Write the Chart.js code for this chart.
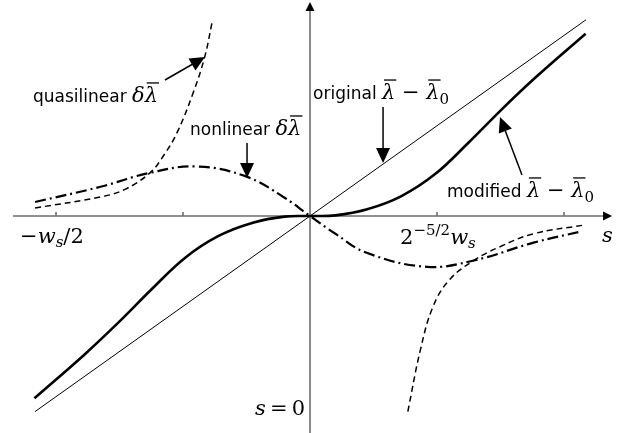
<!DOCTYPE html>
<html>
<head>
<meta charset="utf-8">
<script src="https://cdn.jsdelivr.net/npm/chart.js@4.4.1/dist/chart.umd.min.js"></script>
<style>
  html, body { margin: 0; padding: 0; background: #fff; }
  #wrap { width: 633px; height: 433px; }
</style>
</head>
<body>
<div id="wrap"><canvas id="chart" width="633" height="433"></canvas></div>
<script>
const originalS = [-2.165, 2.173];
const originalY = [-1.54, 1.545];

const modifiedS = [-2.17, -1.775, -1.51, -1.245, -0.985, -0.72, -0.45, -0.2, 0, 0.2, 0.45, 0.72, 0.985, 1.245, 1.51, 1.775, 2.17];
const modifiedY = [-1.435, -1.09, -0.84, -0.575, -0.33, -0.157, -0.053, -0.005, 0, 0.005, 0.053, 0.157, 0.33, 0.575, 0.84, 1.09, 1.435];

const nonlinearS = [-2.165, -1.65, -1.26, -0.89, -0.5, -0.21, 0, 0.2, 0.446, 0.92, 1.29, 1.76, 2.14];
const nonlinearY = [0.11, 0.23, 0.34, 0.39, 0.31, 0.15, 0, -0.14, -0.29, -0.4, -0.35, -0.21, -0.12];

const quasiLeftS = [-2.165, -1.65, -1.457, -1.26, -1.15, -1.05, -0.92, -0.83, -0.77];
const quasiLeftY = [0.063, 0.15, 0.21, 0.34, 0.48, 0.65, 0.97, 1.25, 1.53];
const quasiRightS = [0.77, 0.87, 0.97, 1.1, 1.29, 1.5, 1.76, 2.165];
const quasiRightY = [-1.54, -1.05, -0.71, -0.5, -0.35, -0.24, -0.14, -0.07];

const tickValues = [-2, -1, 1, 2];

const SANS = '17px "DejaVu Sans"';
const MATH_I = 'italic 21px "DejaVu Serif"';
const MATH_R = '21px "DejaVu Serif"';
const SUB_I = 'italic 15px "DejaVu Serif"';
const SUB_R = '15px "DejaVu Serif"';
const TH = "\u2009";

function pts(xs, ys) {
  return xs.map((x, i) => ({ x: x, y: ys[i] }));
}

// annotation arrows: tail -> tip, in data units
const arrows = [
  { from: [-1.142, 1.071], to: [-0.827, 1.252] },
  { from: [-0.496, 0.575], to: [-0.496, 0.299] },
  { from: [0.575, 0.858], to: [0.575, 0.417] },
  { from: [1.669, 0.323], to: [1.496, 0.78] }
];

const lam = () => ({ t: "\u03bb", font: MATH_I, bar: true });

const labels = [
  { at: [-2.181, 0.898], runs: [{ t: "quasilinear ", font: SANS }, { t: "\u03b4", font: MATH_I }, lam()] },
  { at: [-0.945, 0.638], runs: [{ t: "nonlinear ", font: SANS }, { t: "\u03b4", font: MATH_I }, lam()] },
  { at: [0.024, 0.921], runs: [{ t: "original ", font: SANS }, lam(), { t: " \u2212 ", font: MATH_R }, lam(), { t: "0", font: SUB_R, dy: 5 }] },
  { at: [1.079, 0.15], runs: [{ t: "modified ", font: SANS }, lam(), { t: " \u2212 ", font: MATH_R }, lam(), { t: "0", font: SUB_R, dy: 5 }] },
  { at: [-2.283, -0.213], runs: [{ t: "\u2212", font: MATH_R }, { t: "w", font: MATH_I }, { t: "s", font: SUB_I, dy: 4 }, { t: "/2", font: MATH_R }] },
  { at: [0.709, -0.221], runs: [{ t: "2", font: MATH_R }, { t: "\u22125/2", font: SUB_R, dy: -9 }, { t: "w", font: MATH_I }, { t: "s", font: SUB_I, dy: 4 }] },
  { at: [2.299, -0.205], runs: [{ t: "s", font: MATH_I }] },
  { at: [-0.433, -1.567], runs: [{ t: "s", font: MATH_I }, { t: TH + "=" + TH, font: MATH_R }, { t: "0", font: MATH_R }] }
];

function head(ctx, x1, y1, x2, y2, len, half) {
  const a = Math.atan2(y2 - y1, x2 - x1);
  ctx.beginPath();
  ctx.moveTo(x2, y2);
  ctx.lineTo(x2 - len * Math.cos(a) + half * Math.sin(a), y2 - len * Math.sin(a) - half * Math.cos(a));
  ctx.lineTo(x2 - len * Math.cos(a) - half * Math.sin(a), y2 - len * Math.sin(a) + half * Math.cos(a));
  ctx.closePath();
  ctx.fill();
}

function drawRuns(ctx, x, y, runs) {
  runs.forEach((r) => {
    ctx.font = r.font;
    const w = ctx.measureText(r.t).width;
    ctx.fillText(r.t, x, y + (r.dy || 0));
    if (r.bar) {
      ctx.lineWidth = 1.3;
      ctx.beginPath();
      ctx.moveTo(x + 2, y - 19);
      ctx.lineTo(x + w + 1, y - 19);
      ctx.stroke();
    }
    x += w;
  });
}

const sketchAxes = {
  id: "sketchAxes",
  beforeDatasetsDraw(chart) {
    const ctx = chart.ctx;
    const sx = chart.scales.x, sy = chart.scales.y;
    const x0 = sx.getPixelForValue(0), y0 = sy.getPixelForValue(0);
    const left = sx.getPixelForValue(-2.339), right = sx.getPixelForValue(2.378);
    const top = sy.getPixelForValue(1.685), bottom = sy.getPixelForValue(-1.709);
    ctx.save();
    ctx.strokeStyle = "#6e6e6e";
    ctx.lineWidth = 1.6;
    ctx.beginPath();
    ctx.moveTo(left, y0); ctx.lineTo(right - 6, y0);
    ctx.moveTo(x0, bottom); ctx.lineTo(x0, top + 6);
    tickValues.forEach((t) => {
      const px = sx.getPixelForValue(t);
      ctx.moveTo(px, y0); ctx.lineTo(px, y0 - 4);
    });
    ctx.stroke();
    ctx.fillStyle = "#000";
    head(ctx, left, y0, right, y0, 9, 4.5);
    head(ctx, x0, bottom, x0, top, 9, 4.5);
    ctx.restore();
  },
  afterDatasetsDraw(chart) {
    const ctx = chart.ctx;
    const sx = chart.scales.x, sy = chart.scales.y;
    ctx.save();
    ctx.fillStyle = "#000";
    ctx.strokeStyle = "#000";
    arrows.forEach((a) => {
      const x1 = sx.getPixelForValue(a.from[0]), y1 = sy.getPixelForValue(a.from[1]);
      const x2 = sx.getPixelForValue(a.to[0]), y2 = sy.getPixelForValue(a.to[1]);
      const ang = Math.atan2(y2 - y1, x2 - x1);
      ctx.lineWidth = 1.5;
      ctx.beginPath();
      ctx.moveTo(x1, y1);
      ctx.lineTo(x2 - 10 * Math.cos(ang), y2 - 10 * Math.sin(ang));
      ctx.stroke();
      head(ctx, x1, y1, x2, y2, 15, 7);
    });
    ctx.textBaseline = "alphabetic";
    labels.forEach((l) => {
      drawRuns(ctx, sx.getPixelForValue(l.at[0]), sy.getPixelForValue(l.at[1]), l.runs);
    });
    ctx.restore();
  }
};

const common = { pointRadius: 0, borderColor: "#000", fill: false, tension: 0.4 };

new Chart(document.getElementById("chart"), {
  type: "line",
  data: {
    datasets: [
      { ...common, label: "original", data: pts(originalS, originalY), borderWidth: 1, tension: 0 },
      { ...common, label: "modified", data: pts(modifiedS, modifiedY), borderWidth: 2.6 },
      { ...common, label: "nonlinear", data: pts(nonlinearS, nonlinearY), borderWidth: 2.2, borderDash: [11, 4, 2, 4] },
      { ...common, label: "quasilinear", data: pts(quasiLeftS, quasiLeftY), borderWidth: 1.5, borderDash: [6, 4] },
      { ...common, label: "quasilinear2", data: pts(quasiRightS, quasiRightY), borderWidth: 1.5, borderDash: [6, 4] }
    ]
  },
  options: {
    responsive: false,
    animation: false,
    layout: { padding: 0 },
    plugins: { legend: { display: false }, tooltip: { enabled: false } },
    scales: {
      x: { type: "linear", display: false, min: -2.441, max: 2.543 },
      y: { type: "linear", display: false, min: -1.7087, max: 1.7008 }
    }
  },
  plugins: [sketchAxes]
});
</script>
</body>
</html>
